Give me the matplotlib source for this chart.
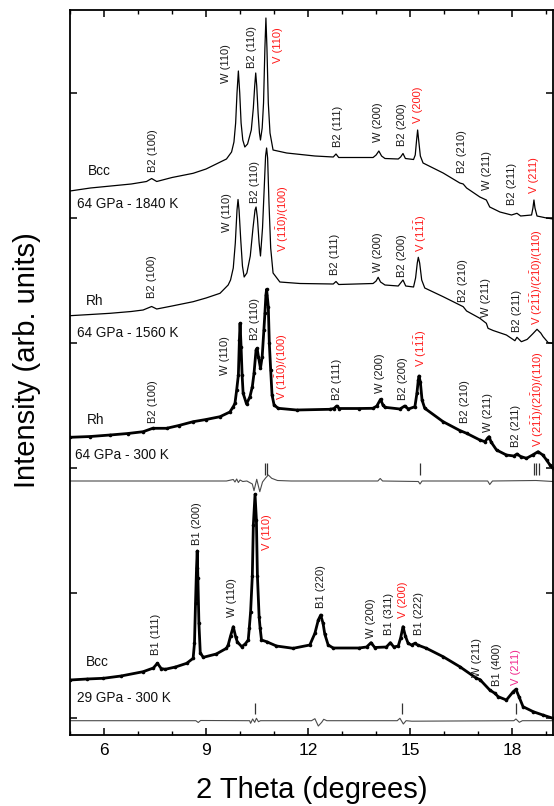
import matplotlib
matplotlib.use("Agg")
import matplotlib.pyplot as plt
from matplotlib.ticker import MultipleLocator

plt.rcParams['font.family'] = ['Liberation Sans', 'DejaVu Sans']
plt.rcParams['mathtext.fontset'] = 'custom'
plt.rcParams['mathtext.rm'] = 'Liberation Sans'
plt.rcParams['mathtext.it'] = 'Liberation Sans:italic'
plt.rcParams['mathtext.bf'] = 'Liberation Sans:bold'

# ---------------- patterns (2theta in degrees, stacked intensity in arb. units) ----------------
bcc_1840_tt = [5.00, 5.60, 6.20, 6.80, 7.25, 7.40, 7.55, 8.00, 8.62, 9.00, 9.30, 9.60, 9.75, 9.82, 9.87,
               9.91, 9.95, 9.99, 10.03, 10.08, 10.14, 10.22, 10.33, 10.39, 10.43, 10.46, 10.49, 10.53,
               10.57, 10.60, 10.65, 10.69, 10.73, 10.76, 10.79, 10.83, 10.88, 10.97, 11.37, 12.20, 12.74,
               12.82, 12.90, 13.50, 13.91, 14.00, 14.08, 14.16, 14.26, 14.65, 14.72, 14.79, 14.86, 15.10,
               15.15, 15.19, 15.22, 15.25, 15.30, 15.38, 15.97, 16.46, 16.56, 16.66, 17.05, 17.24, 17.34,
               17.64, 17.98, 18.14, 18.25, 18.57, 18.61, 18.64, 18.67, 18.73, 19.01, 19.20]
bcc_1840_int = [527, 530, 532, 534, 536.5, 539.5, 536.5, 540.5, 544.7, 549, 554, 559, 566, 576, 595,
                625, 647, 625, 595, 578, 571, 574, 588, 610, 632, 645, 632, 605,
                585, 578, 590, 615, 670, 700, 670, 615, 585, 568, 565, 562, 561,
                564, 560.5, 560.5, 560.5, 563, 567, 562, 559.5, 559, 561, 564.5, 559.5, 558.5,
                563, 578, 588, 578, 562, 555, 545, 535, 534, 530, 521, 518, 511,
                506, 503, 504.7, 502, 503, 510, 518, 510, 502, 500, 499]

rh_1560_tt = [5.00, 5.60, 6.18, 6.80, 7.15, 7.40, 7.55, 8.00, 8.62, 9.00, 9.41, 9.65, 9.72, 9.80, 9.86,
              9.91, 9.94, 9.97, 10.02, 10.07, 10.12, 10.20, 10.30, 10.38, 10.44, 10.47, 10.51, 10.56,
              10.60, 10.66, 10.71, 10.75, 10.78, 10.81, 10.85, 10.90, 10.97, 11.17, 11.76, 12.74, 12.82,
              12.90, 13.91, 14.00, 14.06, 14.13, 14.26, 14.65, 14.72, 14.79, 14.87, 15.10, 15.16, 15.21,
              15.24, 15.28, 15.34, 15.43, 15.97, 16.46, 16.56, 16.66, 17.05, 17.19, 17.24, 17.29, 17.44,
              17.83, 18.08, 18.14, 18.27, 18.44, 18.60, 18.73, 18.84, 18.91, 19.06, 19.20]
rh_1560_int = [402.3, 403.5, 404.7, 406.5, 408, 411.5, 409, 412, 416.3, 420, 424.7, 433, 438, 450, 475,
               508, 518.5, 508, 478, 452, 441, 445, 462, 490, 508, 511, 500, 475,
               462, 490, 530, 562, 570, 560, 515, 470, 445, 436, 434.5, 434, 436.5,
               433.5, 434.5, 437, 440.7, 436, 433, 432, 435, 438, 432, 431, 440, 455,
               460.7, 455, 438, 430, 421.3, 413, 411.3, 407, 399.7, 396, 394.7, 389.7, 387.5,
               383, 377.3, 380.7, 376.3, 378.6, 384, 388.7, 385, 381.3, 375.3, 374.7]

rh_300_tt = [5.00, 5.60, 6.18, 6.70, 7.15, 7.43, 7.84, 8.20, 8.62, 9.00, 9.41, 9.70, 9.80, 9.85, 9.90,
             9.95, 9.98, 10.00, 10.03, 10.06, 10.09, 10.19, 10.29, 10.36, 10.41, 10.47, 10.50, 10.54,
             10.60, 10.65, 10.70, 10.73, 10.76, 10.78, 10.83, 10.86, 10.90, 10.94, 11.00, 11.12, 11.66,
             12.64, 12.76, 12.84, 12.92, 13.50, 13.91, 14.02, 14.13, 14.20, 14.26, 14.70, 14.84, 14.95,
             15.14, 15.20, 15.24, 15.26, 15.30, 15.35, 15.43, 15.97, 16.46, 16.66, 17.05, 17.20, 17.28,
             17.32, 17.38, 17.54, 17.83, 18.05, 18.14, 18.25, 18.42, 18.60, 18.76, 18.90, 19.01, 19.10,
             19.20]
rh_300_int = [280.7, 281.5, 283, 284.5, 286.3, 289.7, 289.7, 292.5, 296.3, 298.5, 301.3, 306, 311.3, 314.7, 328,
              343, 378, 394.7, 371, 343, 324.7, 314, 321.3, 331.3, 344.7, 368, 369.7, 361.3,
              349.7, 361.3, 388, 404.7, 423, 428.7, 411.3, 374.7, 348, 323, 313, 309.7, 308,
              308.7, 309.5, 312, 309.5, 309.5, 309.7, 312, 318.7, 313, 310.7, 309, 312, 309,
              311.3, 325, 338, 342, 336, 318, 309.7, 296.3, 287.5, 284.7, 278, 276.3, 280,
              281.3, 276, 268, 263, 262, 264, 261.5, 259.7, 263, 266.3, 263, 258, 253.5,
              249.7]

bcc_29_tt = [5.00, 5.50, 5.98, 6.50, 7.15, 7.45, 7.57, 7.68, 7.80, 8.10, 8.43, 8.62, 8.66, 8.69, 8.72,
             8.74, 8.76, 8.79, 8.83, 8.92, 9.30, 9.60, 9.65, 9.72, 9.80, 9.87, 9.92, 10.05, 10.15,
             10.24, 10.27, 10.31, 10.36, 10.39, 10.44, 10.48, 10.51, 10.56, 10.59, 10.63, 10.78, 11.07,
             11.56, 12.05, 12.20, 12.30, 12.37, 12.44, 12.49, 12.59, 12.74, 13.50, 13.72, 13.85, 13.96,
             14.30, 14.42, 14.52, 14.65, 14.72, 14.79, 14.86, 14.94, 15.04, 15.14, 15.22, 15.48, 15.97,
             16.46, 16.95, 17.05, 17.34, 17.49, 17.59, 17.83, 18.03, 18.11, 18.20, 18.32, 18.62, 18.90,
             19.20]
bcc_29_int = [38, 39, 39.7, 42, 46.3, 50, 54.7, 49.5, 48.7, 51, 54.7, 59.7, 75, 115, 150,
              167, 140, 95, 65, 60.7, 64, 69.7, 73, 82, 91.3, 81.3, 76, 71.3, 74,
              78, 89.7, 106.3, 142, 193, 223.7, 198, 142, 101.3, 89.7, 78, 76.3, 72,
              69.7, 73, 84.7, 98, 103, 94.7, 84, 73, 70, 70, 71, 75.3, 70.5,
              71, 75.3, 71, 72, 80, 91.3, 82, 74.7, 73, 74.7, 73, 69.7, 61.3,
              51.3, 39.7, 38.5, 28, 24.7, 21.3, 18, 26.3, 28.7, 21.3, 11.3, 6.3, 3,
              -0.3]

# difference curves (observed - calculated), drawn under the 300 K patterns
diff_64_tt = [5.00, 9.60, 9.80, 9.85, 9.90, 9.95, 10.00, 10.08, 10.20, 10.36, 10.41, 10.49, 10.58, 10.66,
              10.75, 10.83, 10.93, 11.10, 11.50, 14.05, 14.12, 14.19, 15.24, 15.29, 15.35, 17.28, 17.34,
              17.42, 18.70, 19.20]
diff_64_int = [237, 237, 238.5, 236, 239, 235.5, 238, 236.5, 237, 234, 227.3, 238.7, 226.3, 236,
               240, 243, 239.7, 237.5, 237, 237, 239.5, 237, 236.5, 234, 237, 237, 233.5,
               237, 237.5, 236.5]

diff_29_tt = [5.00, 8.70, 8.77, 8.84, 10.28, 10.31, 10.37, 10.43, 10.48, 10.54, 10.60, 12.10, 12.20, 12.30,
              12.40, 12.46, 12.55, 14.62, 14.70, 14.80, 14.88, 15.05, 18.05, 18.11, 18.21, 18.30, 19.20]
diff_29_int = [-2.7, -2.7, -4.5, -2.5, -2.7, -5.3, -1, -4.3, -0.3, -3.7, -2.7, -2.7, -0.7, -8,
               -4.3, -1.3, -2.7, -2.7, -0.3, -6, -2.7, -3.2, -2.7, -1, -4.3, -2.7, -2.7]

# reflection markers of the V phase
vmark_64_tt = [10.72, 10.79, 15.28, 18.63, 18.71, 18.79]
vmark_29_tt = [10.44, 14.77, 18.11]

# peak labels: (text, 2theta, label base, colour key)
OVER = r'$\mathrm{\bar{1}}$'
labels_1840 = [("B2 (100)", 7.43, 546), ("W (110)", 9.60, 635), ("B2 (110)", 10.36, 650),
               ("V (110)", 11.12, 655, 'r'), ("B2 (111)", 12.87, 571), ("W (200)", 14.06, 576),
               ("B2 (200)", 14.77, 572), ("V (200)", 15.22, 595, 'r'), ("B2 (210)", 16.53, 545),
               ("W (211)", 17.27, 528), ("B2 (211)", 18.00, 513), ("V (211)", 18.64, 525, 'r')]
labels_1560 = [("B2 (100)", 7.40, 420), ("W (110)", 9.63, 486), ("B2 (110)", 10.44, 515),
               ("V (1" + OVER + "0)/(100)", 11.25, 466, 'r'), ("B2 (111)", 12.79, 443),
               ("W (200)", 14.06, 446), ("B2 (200)", 14.77, 441), ("V (1" + OVER + OVER + ")", 15.31, 466, 'r'),
               ("B2 (210)", 16.56, 416), ("W (211)", 17.24, 401), ("B2 (211)", 18.14, 386),
               ("V (2" + OVER + OVER + ")/(2" + OVER + "0)/(110)", 18.74, 393, 'r')]
labels_300 = [("B2 (100)", 7.45, 295), ("W (110)", 9.55, 343), ("B2 (110)", 10.44, 378),
              ("V (1" + OVER + "0)/(100)", 11.22, 318, 'r'), ("B2 (111)", 12.84, 318),
              ("W (200)", 14.11, 325), ("B2 (200)", 14.79, 318), ("V (1" + OVER + OVER + ")", 15.31, 351, 'r'),
              ("B2 (210)", 16.61, 295), ("W (211)", 17.29, 286), ("B2 (211)", 18.12, 271),
              ("V (2" + OVER + OVER + ")/(2" + OVER + "0)/(110)", 18.76, 271, 'r')]
labels_29 = [("B1 (111)", 7.53, 63), ("B1 (200)", 8.74, 173), ("W (110)", 9.77, 101),
             ("V (110)", 10.78, 168, 'r'), ("B1 (220)", 12.37, 110), ("W (200)", 13.85, 80),
             ("B1 (311)", 14.38, 83), ("V (200)", 14.79, 100, 'r'), ("B1 (222)", 15.26, 83),
             ("W (211)", 16.98, 41), ("B1 (400)", 17.54, 32), ("V (211)", 18.12, 33, 'm')]

# pattern names and conditions: (text, 2theta, height)
pattern_names = [("Bcc", 5.53, 547), ("64 GPa - 1840 K", 5.21, 514),
                 ("Rh", 5.47, 417), ("64 GPa - 1560 K", 5.21, 385),
                 ("Rh", 5.49, 298), ("64 GPa - 300 K", 5.15, 263),
                 ("Bcc", 5.47, 56), ("29 GPa - 300 K", 5.21, 20)]

xticks_major = [6, 9, 12, 15, 18]

# ---------------- drawing ----------------
W, H = 554, 806
fig = plt.figure(figsize=(W / 100, H / 100), dpi=100)
ax = fig.add_axes([70 / W, 1 - 735 / H, (553 - 70) / W, (735 - 10) / H])

ax.plot(bcc_1840_tt, bcc_1840_int, color='black', lw=0.9)
ax.plot(rh_1560_tt, rh_1560_int, color='black', lw=0.9)
ax.plot(rh_300_tt, rh_300_int, color='black', lw=2.0, marker='o', ms=2.6,
        markerfacecolor='black', markeredgewidth=0)
ax.plot(bcc_29_tt, bcc_29_int, color='black', lw=2.0, marker='o', ms=2.6,
        markerfacecolor='black', markeredgewidth=0)
ax.plot(diff_64_tt, diff_64_int, color='#4a4a4a', lw=0.8)
ax.plot(diff_29_tt, diff_29_int, color='#4a4a4a', lw=0.8)
ax.vlines(vmark_64_tt, 243, 255, color='#333333', lw=0.9)
ax.vlines(vmark_29_tt, 4, 15.5, color='#333333', lw=0.9)

colours = {'k': '#1a1a1a', 'r': '#ff1a1a', 'm': '#f0288c'}
for group in (labels_1840, labels_1560, labels_300, labels_29):
    for item in group:
        text, tt, base = item[:3]
        key = item[3] if len(item) > 3 else 'k'
        ax.text(tt, base, text, rotation=90, ha='center', va='bottom',
                fontsize=8, color=colours[key])

for text, tt, h in pattern_names:
    ax.text(tt, h, text, ha='left', va='center', fontsize=9.8, color='#111111')

ax.set_xlim(5, 19.2)
ax.set_ylim(-17, 708)
ax.set_xticks(xticks_major)
ax.set_xticklabels([str(v) for v in xticks_major])
ax.xaxis.set_minor_locator(MultipleLocator(1))
ax.set_yticks([0, 125, 250, 375, 500, 625])
ax.set_yticklabels([])
ax.tick_params(axis='both', which='major', direction='in', length=5, width=1.1,
               top=True, right=True, labelsize=12.5, pad=6)
ax.tick_params(axis='both', which='minor', direction='in', length=3, width=1.0,
               top=True, right=True)
for sp in ax.spines.values():
    sp.set_linewidth(1.3)

fig.text(312 / W, 1 - 790 / H, "2 Theta (degrees)", ha='center', va='center', fontsize=21)
fig.text(27 / W, 1 - 360 / H, "Intensity (arb. units)", ha='center', va='center',
         rotation=90, fontsize=21)

fig.savefig("out.png", dpi=100)
